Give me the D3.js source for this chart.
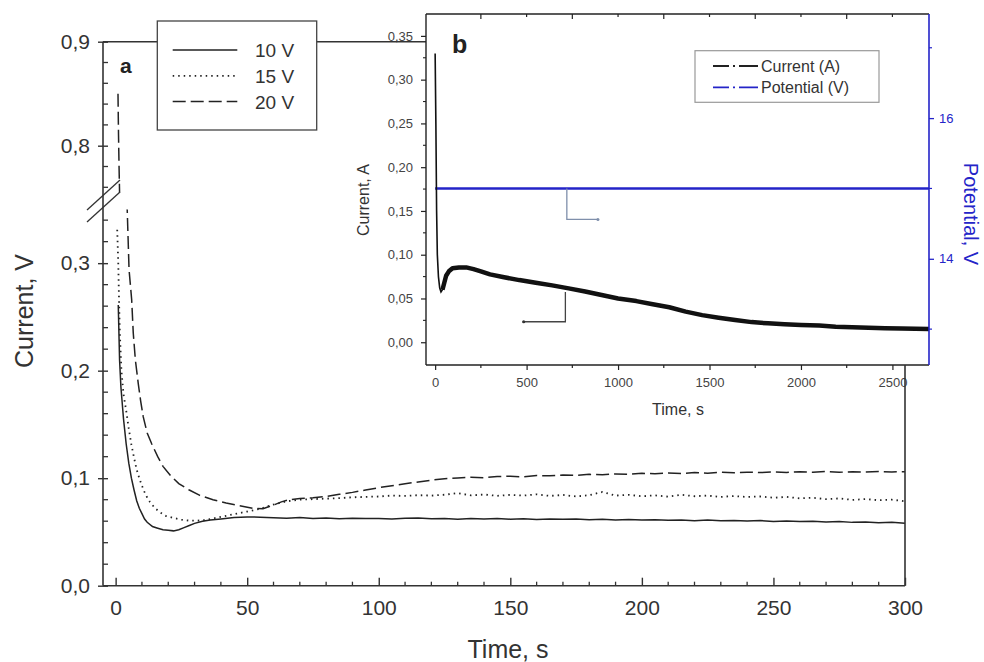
<!DOCTYPE html>
<html>
<head>
<meta charset="utf-8">
<script src="https://cdn.jsdelivr.net/npm/d3@7"></script>
<style>
  body { margin: 0; background: #fff; }
  svg { display: block; font-family: "Liberation Sans", Arial, sans-serif; }
</style>
</head>
<body>
<svg id="chart" width="984" height="662"></svg>
<script>
// ---- main panel (a): current vs time for three voltages ----
const series = ["10 V", "15 V", "20 V"];

const t10 = [1, 1.5, 2, 3, 4, 5, 6, 7, 8, 9, 10, 11, 12, 14, 16, 18, 20, 22, 24, 26, 28, 30, 33, 36, 40, 45, 50,
  55, 60, 65, 70, 75, 80, 85, 90, 95, 100, 105, 110, 115, 120, 125, 130, 135, 140, 145, 150, 155, 160, 165, 170,
  175, 180, 185, 190, 195, 200, 205, 210, 215, 220, 225, 230, 235, 240, 245, 250, 255, 260, 265, 270, 275, 280,
  285, 290, 295, 300];
const v10 = [0.261, 0.21, 0.185, 0.155, 0.132, 0.114, 0.100, 0.089, 0.079, 0.072, 0.067, 0.062, 0.059, 0.055, 0.0535,
  0.052, 0.0515, 0.051, 0.052, 0.054, 0.056, 0.058, 0.060, 0.061, 0.062, 0.0635, 0.064,
  0.0637, 0.0632, 0.0628, 0.0634, 0.0626, 0.0630, 0.0622, 0.0628, 0.0624, 0.0626, 0.0620, 0.0627, 0.0630, 0.0622,
  0.0625, 0.0619, 0.0624, 0.0621, 0.0626, 0.0618, 0.0622, 0.0616, 0.0620, 0.0617, 0.0621, 0.0614, 0.0619, 0.0612,
  0.0616, 0.0610, 0.0614, 0.0608, 0.0612, 0.0605, 0.0610, 0.0604, 0.0607, 0.0601, 0.0606, 0.0598, 0.0602, 0.0596,
  0.0599, 0.0592, 0.0596, 0.0589, 0.0593, 0.0586, 0.0590, 0.0580];

const t15 = [0.6, 1, 1.3, 1.6, 2.2, 3, 4, 5, 6, 7, 8, 9, 10, 11, 12, 13, 15, 17, 19, 22, 25, 28, 31, 34, 38, 42, 46, 50,
  55, 60, 65, 70, 75, 80, 85, 90, 95, 100, 105, 110, 115, 120, 125, 130, 135, 140, 145, 150, 155, 160, 165, 170,
  175, 180, 185, 190, 195, 200, 205, 210, 215, 220, 225, 230, 235, 240, 245, 250, 255, 260, 265, 270, 275, 280,
  285, 290, 295, 300];
const v15 = [0.331, 0.30, 0.265, 0.235, 0.20, 0.178, 0.163, 0.146, 0.131, 0.119, 0.108, 0.100, 0.093, 0.087, 0.082,
  0.078, 0.072, 0.068, 0.065, 0.063, 0.0615, 0.0605, 0.0605, 0.061, 0.063, 0.065, 0.067, 0.069,
  0.0715, 0.0755, 0.0785, 0.0800, 0.0805, 0.0810, 0.0815, 0.0822, 0.0826, 0.0830, 0.0838, 0.0835, 0.0842, 0.0838,
  0.0846, 0.0862, 0.0840, 0.0848, 0.0836, 0.0845, 0.0838, 0.0850, 0.0835, 0.0844, 0.0830, 0.0842, 0.0872, 0.0838,
  0.0845, 0.0832, 0.0840, 0.0828, 0.0846, 0.0832, 0.0838, 0.0826, 0.0834, 0.0825, 0.0830, 0.0818, 0.0826, 0.0812,
  0.0818, 0.0805, 0.0812, 0.0798, 0.0806, 0.0795, 0.0800, 0.0785];

const t20 = [0.9, 1.1, 1.3, 1.5, 4.4, 5.1, 6.1, 6.7, 7.5, 8.6, 9.5, 10.5, 12, 13.7, 16, 18, 21, 24, 28, 32, 37, 42, 47,
  52, 56, 60, 63, 66, 70, 75, 80, 85, 90, 95, 100, 105, 110, 115, 120, 125, 130, 135, 140, 145, 150, 155, 160, 165,
  170, 175, 180, 185, 190, 195, 200, 205, 210, 215, 220, 225, 230, 235, 240, 245, 250, 255, 260, 265, 270, 275,
  280, 285, 290, 295, 300];
const v20 = [0.85, 0.81, 0.78, 0.75, 0.35, 0.294, 0.266, 0.235, 0.21, 0.188, 0.172, 0.157, 0.142, 0.132, 0.12, 0.111,
  0.102, 0.095, 0.089, 0.084, 0.080, 0.077, 0.0745, 0.072, 0.0715, 0.075, 0.078, 0.080,
  0.0810, 0.0818, 0.0830, 0.0850, 0.0868, 0.0890, 0.0912, 0.0930, 0.0948, 0.0965, 0.0982, 0.0995, 0.1002, 0.1008,
  0.1005, 0.1015, 0.1018, 0.1012, 0.1025, 0.1022, 0.1030, 0.1026, 0.1036, 0.1032, 0.1040, 0.1036, 0.1045, 0.1042,
  0.1048, 0.1044, 0.1052, 0.1047, 0.1055, 0.1050, 0.1056, 0.1052, 0.1058, 0.1054, 0.1060, 0.1056, 0.1062, 0.1055,
  0.1060, 0.1057, 0.1062, 0.1058, 0.1060];

const mainXTicks = [0, 50, 100, 150, 200, 250, 300];
const mainYTicksLow = [0, 0.1, 0.2, 0.3];
const mainYTicksHigh = [0.8, 0.9];

// ---- inset panel (b): long run current and potential ----
const insetTime = [0, 4, 8, 12, 18, 25, 32, 40, 50, 60, 75, 95, 130, 170, 210, 250, 300, 370, 460, 550, 640, 730, 820,
  910, 1000, 1100, 1190, 1280, 1370, 1460, 1550, 1640, 1730, 1820, 1910, 2000, 2100, 2190, 2280, 2370, 2460, 2550, 2700];
const insetCurrent = [0.33, 0.25, 0.15, 0.10, 0.075, 0.062, 0.0575, 0.060, 0.068, 0.076, 0.081, 0.0845, 0.0855, 0.0855,
  0.0835, 0.081, 0.0775, 0.0745, 0.071, 0.068, 0.065, 0.0615, 0.058, 0.054, 0.050, 0.047, 0.0435, 0.040, 0.035,
  0.031, 0.028, 0.0253, 0.023, 0.0216, 0.0205, 0.0197, 0.019, 0.0178, 0.0172, 0.0166, 0.016, 0.0157, 0.015];
const potentialTime = [0, 2700];
const potentialValue = [15, 15];
const insetXTicks = [0, 500, 1000, 1500, 2000, 2500];
const insetYTicks = [0, 0.05, 0.10, 0.15, 0.20, 0.25, 0.30, 0.35];
const potentialTicks = [14, 16];

const ink = "#222";
const blue = "#2424c8";
const svg = d3.select("#chart");
const comma = f => v => d3.format(f)(v).replace(".", ",");

// main scales (broken y axis)
const x = d3.scaleLinear().domain([-4.8, 300]).range([103, 905]);
const yLow = d3.scaleLinear().domain([0, 0.35]).range([585.7, 209.4]);
const yHigh = d3.scaleLinear().domain([0.755, 0.9]).range([192.5, 41.7]);
const yGap = d3.scaleLinear().domain([0.35, 0.755]).range([yLow(0.35), yHigh(0.755)]);
const yMain = v => v >= 0.755 ? yHigh(v) : (v <= 0.35 ? yLow(v) : yGap(v));

const plotL = x.range()[0], plotR = x.range()[1];
const plotB = yLow.range()[0], plotT = yHigh.range()[1];

const main = svg.append("g");

// clip away the break gap
const clip = svg.append("defs").append("clipPath").attr("id", "brk");
clip.append("rect").attr("x", plotL).attr("y", plotT).attr("width", plotR - plotL).attr("height", yHigh(0.755) - plotT);
clip.append("rect").attr("x", plotL).attr("y", yLow(0.35)).attr("width", plotR - plotL).attr("height", plotB - yLow(0.35));

const styles = [
  { dash: null },
  { dash: "1.5,4" },
  { dash: "13,5" }
];
const mainData = [
  t10.map((t, i) => [t, v10[i]]),
  t15.map((t, i) => [t, v15[i]]),
  t20.map((t, i) => [t, v20[i]])
];
const line = d3.line().x(d => x(d[0])).y(d => yMain(d[1]));

main.append("g").attr("clip-path", "url(#brk)")
  .selectAll("path").data(mainData).enter().append("path")
  .attr("d", line)
  .attr("fill", "none")
  .attr("stroke", ink)
  .attr("stroke-width", (d, i) => i === 1 ? 1.8 : 1.5)
  .attr("stroke-dasharray", (d, i) => styles[i].dash);

// axis frame
main.append("line").attr("x1", plotL).attr("x2", plotL).attr("y1", plotT).attr("y2", plotB)
  .attr("stroke", "#333").attr("stroke-width", 1.6);
main.append("line").attr("x1", plotL).attr("x2", plotR).attr("y1", plotB).attr("y2", plotB)
  .attr("stroke", "#333").attr("stroke-width", 1.6);
main.append("line").attr("x1", plotL).attr("x2", plotR).attr("y1", plotT).attr("y2", plotT)
  .attr("stroke", "#333").attr("stroke-width", 1.4);

// x axis
const xAxis = main.append("g").attr("transform", `translate(0,${plotB})`)
  .call(d3.axisBottom(x).tickValues(mainXTicks).tickSize(-8).tickPadding(14).tickFormat(d3.format("d")));
xAxis.select(".domain").remove();
xAxis.selectAll("line").attr("stroke", "#333").attr("stroke-width", 1.4);
xAxis.selectAll("text").attr("font-size", 21).attr("fill", "#333");
main.append("g").selectAll("line").data(d3.range(10, 300, 10).filter(v => v % 50 !== 0)).enter().append("line")
  .attr("x1", d => x(d)).attr("x2", d => x(d)).attr("y1", plotB).attr("y2", plotB - 4)
  .attr("stroke", "#333").attr("stroke-width", 1.3);

// y axes
[[yLow, mainYTicksLow], [yHigh, mainYTicksHigh]].forEach(([sc, ticks]) => {
  const g = main.append("g").attr("transform", `translate(${plotL},0)`)
    .call(d3.axisLeft(sc).tickValues(ticks).tickSize(5).tickPadding(8).tickFormat(comma(".1f")));
  g.select(".domain").remove();
  g.selectAll("line").attr("x2", -5).attr("x1", 5).attr("stroke", "#333").attr("stroke-width", 1.4);
  g.selectAll("text").attr("font-size", 21).attr("fill", "#333");
});
const minorY = d3.range(0.02, 0.35, 0.02).concat(d3.range(0.76, 0.9, 0.02))
  .filter(v => Math.abs(v * 10 - Math.round(v * 10)) > 0.01);
main.append("g").selectAll("line").data(minorY).enter().append("line")
  .attr("x1", plotL).attr("x2", plotL + 5).attr("y1", d => yMain(d)).attr("y2", d => yMain(d))
  .attr("stroke", "#333").attr("stroke-width", 1.3);

// break marks
const gapMid = (yHigh(0.755) + yLow(0.35)) / 2;
main.append("g").selectAll("line").data([-6, 6]).enter().append("line")
  .attr("x1", plotL - 16).attr("x2", plotL + 17)
  .attr("y1", d => gapMid + d + 15).attr("y2", d => gapMid + d - 15)
  .attr("stroke", "#333").attr("stroke-width", 1.3);

// axis titles
main.append("text").attr("x", 508).attr("y", 658).attr("text-anchor", "middle")
  .attr("font-size", 25).attr("fill", "#333").text("Time, s");
main.append("text").attr("transform", "translate(33,311) rotate(-90)").attr("text-anchor", "middle")
  .attr("font-size", 25).attr("fill", "#333").text("Current, V");
main.append("text").attr("x", 120).attr("y", 73).attr("font-size", 21).attr("font-weight", "bold")
  .attr("fill", "#222").text("a");

// main legend
const leg = main.append("g");
leg.append("rect").attr("x", 157.3).attr("y", 21).attr("width", 159.4).attr("height", 109)
  .attr("fill", "#fff").attr("stroke", "#444").attr("stroke-width", 1.3);
const legRows = leg.selectAll("g.row").data(series).enter().append("g").attr("class", "row")
  .attr("transform", (d, i) => `translate(0,${50 + i * 25.8})`);
legRows.append("line").attr("x1", 172.7).attr("x2", 237.3).attr("y1", 0).attr("y2", 0)
  .attr("stroke", ink).attr("stroke-width", (d, i) => i === 1 ? 1.8 : 1.5)
  .attr("stroke-dasharray", (d, i) => styles[i].dash);
legRows.append("text").attr("x", 255).attr("y", 7).attr("font-size", 19).attr("fill", "#333").text(d => d);

// ---- inset ----
const xIn = d3.scaleLinear().domain([-50, 2700]).range([426, 929]);
const yIn = d3.scaleLinear().domain([-0.026, 0.375]).range([365, 14]);
const yPot = d3.scaleLinear().domain([12.49, 17.48]).range([365, 14]);
const iL = xIn.range()[0], iR = xIn.range()[1], iB = yIn.range()[0], iT = yIn.range()[1];

const inset = svg.append("g");
inset.append("rect").attr("x", iL).attr("y", iT).attr("width", iR - iL).attr("height", iB - iT).attr("fill", "#fff");

const potLine = d3.line().x((d, i) => xIn(potentialTime[i])).y(d => yPot(d));
inset.append("path").datum(potentialValue).attr("d", potLine)
  .attr("fill", "none").attr("stroke", blue).attr("stroke-width", 2.6);

const curData = insetTime.map((t, i) => [t, insetCurrent[i]]);
const curLine = d3.line().x(d => xIn(d[0])).y(d => yIn(d[1]));
inset.append("path").datum(curData).attr("d", curLine)
  .attr("fill", "none").attr("stroke", "#111").attr("stroke-width", 1.6);
inset.append("path").datum(curData.filter(d => d[0] >= 40)).attr("d", curLine)
  .attr("fill", "none").attr("stroke", "#111").attr("stroke-width", 4.5).attr("stroke-linejoin", "round");

// annotation brackets
const annGrey = [[720, 15], [720, 14.56], [890, 14.56]];
inset.append("path")
  .attr("d", d3.line().x(d => xIn(d[0])).y(d => yPot(d[1]))(annGrey))
  .attr("fill", "none").attr("stroke", "#7f8fab").attr("stroke-width", 1.3);
inset.append("circle").attr("cx", xIn(890)).attr("cy", yPot(14.56)).attr("r", 1.5).attr("fill", "#7f8fab");
const annBlack = [[712, 0.0575], [712, 0.0234], [484, 0.0234]];
inset.append("path")
  .attr("d", curLine(annBlack))
  .attr("fill", "none").attr("stroke", "#444").attr("stroke-width", 1.3);
inset.append("circle").attr("cx", xIn(484)).attr("cy", yIn(0.0234)).attr("r", 1.6).attr("fill", "#333");

// inset frame
inset.append("line").attr("x1", iL).attr("x2", iR).attr("y1", iT).attr("y2", iT).attr("stroke", "#222").attr("stroke-width", 1.4);
inset.append("line").attr("x1", iL).attr("x2", iR).attr("y1", iB).attr("y2", iB).attr("stroke", "#222").attr("stroke-width", 1.4);
inset.append("line").attr("x1", iL).attr("x2", iL).attr("y1", iT).attr("y2", iB).attr("stroke", "#222").attr("stroke-width", 1.4);
inset.append("line").attr("x1", iR).attr("x2", iR).attr("y1", iT).attr("y2", iB).attr("stroke", blue).attr("stroke-width", 1.6);

// inset bottom axis
const ixAxis = inset.append("g").attr("transform", `translate(0,${iB})`)
  .call(d3.axisBottom(xIn).tickValues(insetXTicks).tickSize(5).tickPadding(7.5).tickFormat(d3.format("d")));
ixAxis.select(".domain").remove();
ixAxis.selectAll("line").attr("stroke", "#222").attr("stroke-width", 1.2);
ixAxis.selectAll("text").attr("font-size", 13).attr("fill", "#444");
const minorX = d3.range(250, 2700, 500);
inset.append("g").selectAll("line").data(minorX).enter().append("line")
  .attr("x1", d => xIn(d)).attr("x2", d => xIn(d)).attr("y1", iB).attr("y2", iB + 3)
  .attr("stroke", "#222").attr("stroke-width", 1.2);
inset.append("g").selectAll("line").data(d3.range(250, 2700, 250)).enter().append("line")
  .attr("x1", d => xIn(d)).attr("x2", d => xIn(d)).attr("y1", iT).attr("y2", d => iT + (d % 500 === 0 ? 3 : 5))
  .attr("stroke", "#222").attr("stroke-width", 1.2);

// inset left axis
const iyAxis = inset.append("g").attr("transform", `translate(${iL},0)`)
  .call(d3.axisLeft(yIn).tickValues(insetYTicks).tickSize(5).tickPadding(8).tickFormat(comma(".2f")));
iyAxis.select(".domain").remove();
iyAxis.selectAll("line").attr("stroke", "#222").attr("stroke-width", 1.2);
iyAxis.selectAll("text").attr("font-size", 13).attr("fill", "#444");
inset.append("g").selectAll("line").data(d3.range(0.025, 0.36, 0.05)).enter().append("line")
  .attr("x1", iL).attr("x2", iL - 3).attr("y1", d => yIn(d)).attr("y2", d => yIn(d))
  .attr("stroke", "#222").attr("stroke-width", 1.1);

// inset right axis (potential)
const ipAxis = inset.append("g").attr("transform", `translate(${iR},0)`)
  .call(d3.axisRight(yPot).tickValues(potentialTicks).tickSize(5).tickPadding(5).tickFormat(d3.format("d")));
ipAxis.select(".domain").remove();
ipAxis.selectAll("line").attr("stroke", blue).attr("stroke-width", 1.3);
ipAxis.selectAll("text").attr("font-size", 13).attr("fill", blue);
inset.append("g").selectAll("line").data([13, 15, 17]).enter().append("line")
  .attr("x1", iR).attr("x2", iR + 3).attr("y1", d => yPot(d)).attr("y2", d => yPot(d))
  .attr("stroke", blue).attr("stroke-width", 1.2);

// inset titles
inset.append("text").attr("x", 678).attr("y", 415).attr("text-anchor", "middle")
  .attr("font-size", 16).attr("fill", "#333").text("Time, s");
inset.append("text").attr("transform", "translate(369,200) rotate(-90)").attr("text-anchor", "middle")
  .attr("font-size", 16).attr("fill", "#333").text("Current, A");
inset.append("text").attr("transform", "translate(964,214) rotate(90)").attr("text-anchor", "middle")
  .attr("font-size", 20).attr("fill", blue).text("Potential, V");
inset.append("text").attr("x", 452).attr("y", 53).attr("font-size", 25).attr("font-weight", "bold")
  .attr("fill", "#222").text("b");

// inset legend
const ileg = inset.append("g");
ileg.append("rect").attr("x", 695).attr("y", 50.7).attr("width", 184).attr("height", 51.6)
  .attr("fill", "#fff").attr("stroke", "#999").attr("stroke-width", 1.2);
const insetSeries = [{ name: "Current (A)", color: "#222" }, { name: "Potential (V)", color: blue }];
const ilRows = ileg.selectAll("g.row").data(insetSeries).enter().append("g").attr("class", "row")
  .attr("transform", (d, i) => `translate(0,${66 + i * 21.3})`);
ilRows.append("line").attr("x1", 713).attr("x2", 758).attr("y1", 0).attr("y2", 0)
  .attr("stroke", d => d.color).attr("stroke-width", 1.8).attr("stroke-dasharray", "16,4,2,4,19");
ilRows.append("text").attr("x", 761).attr("y", 5.5).attr("font-size", 16).attr("fill", "#333").text(d => d.name);

// main right axis over the inset labels
svg.append("line").attr("x1", plotR).attr("x2", plotR).attr("y1", iB).attr("y2", plotB)
  .attr("stroke", "#333").attr("stroke-width", 1.6);
</script>
</body>
</html>
